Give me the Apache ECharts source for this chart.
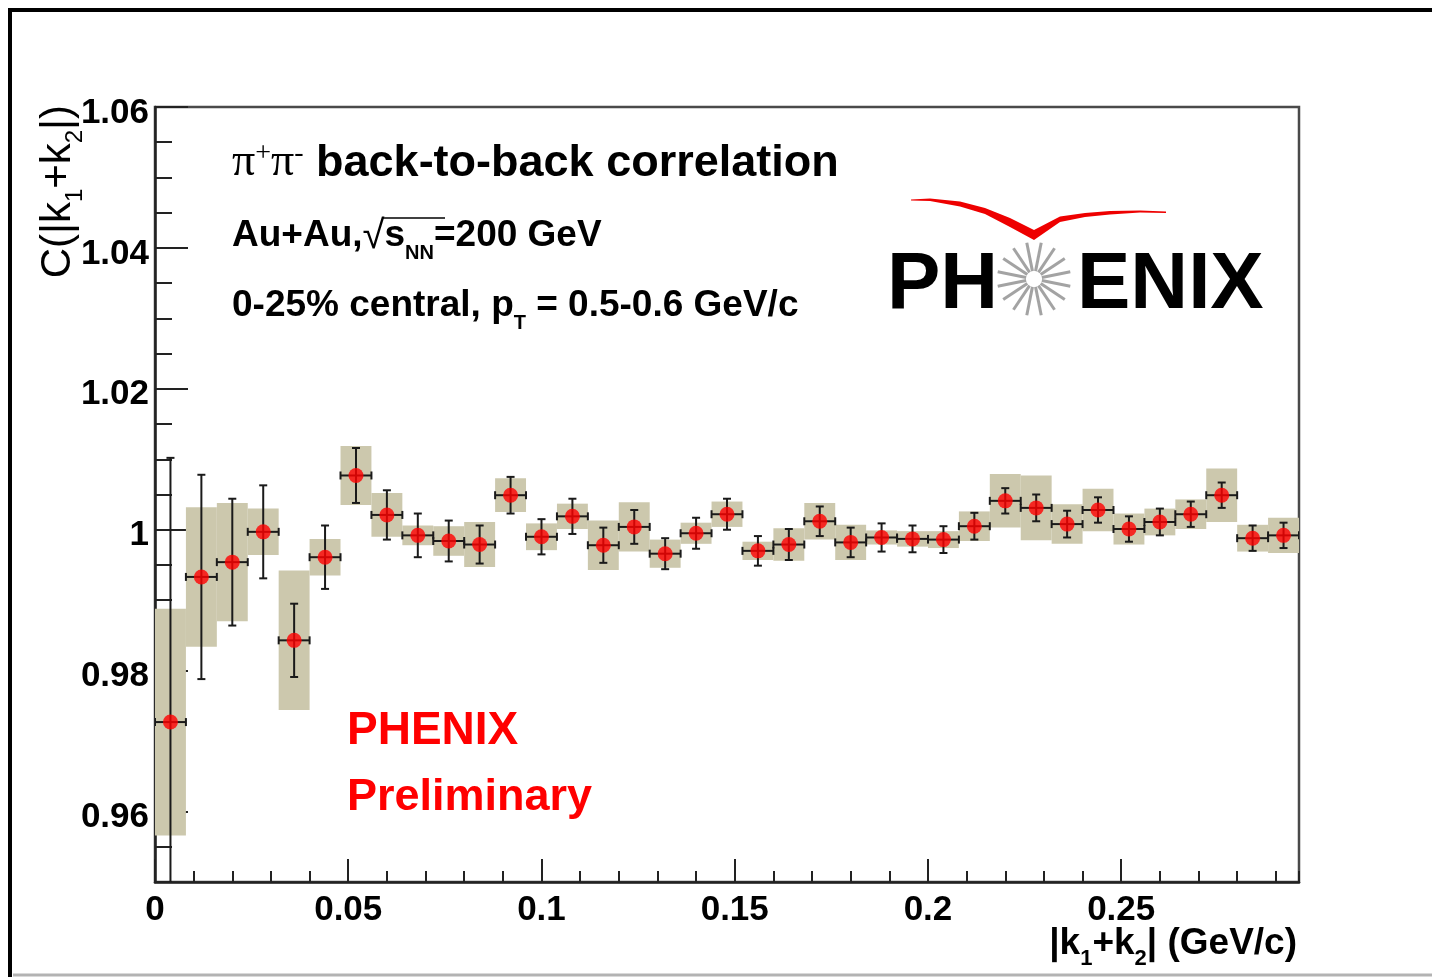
<!DOCTYPE html>
<html>
<head>
<meta charset="utf-8">
<title>π+π- back-to-back correlation</title>
<script src="https://cdn.jsdelivr.net/npm/echarts@6/dist/echarts.min.js"></script>
<style>
  html, body { margin: 0; padding: 0; background: #ffffff; }
  #chart { width: 1432px; height: 977px; }
</style>
</head>
<body>
<div id="chart"></div>
<script>
// |k1+k2| bin centres (GeV/c)
const BIN_CENTERS = [
  0.004, 0.012, 0.020, 0.028, 0.036, 0.044, 0.052, 0.060, 0.068, 0.076,
  0.084, 0.092, 0.100, 0.108, 0.116, 0.124, 0.132, 0.140, 0.148, 0.156,
  0.164, 0.172, 0.180, 0.188, 0.196, 0.204, 0.212, 0.220, 0.228, 0.236,
  0.244, 0.252, 0.260, 0.268, 0.276, 0.284, 0.292
];
// correlation function C(|k1+k2|)
const CORRELATION = [
  0.9727, 0.9933, 0.9954, 0.9997, 0.9843, 0.9961, 1.0077, 1.0021, 0.9992, 0.9984,
  0.9979, 1.0049, 0.9990, 1.0019, 0.9978, 1.0004, 0.9966, 0.9995, 1.0022, 0.9970,
  0.9979, 1.0012, 0.9982, 0.9989, 0.9987, 0.9986, 1.0005, 1.0041, 1.0031, 1.0008,
  1.0028, 1.0001, 1.0011, 1.0022, 1.0049, 0.9988, 0.9992
];
// statistical uncertainty (error bars)
const STAT_ERR = [
  0.0375, 0.0145, 0.0090, 0.0066, 0.0052, 0.0045, 0.0039, 0.0035, 0.0031, 0.0029,
  0.0027, 0.0026, 0.0025, 0.0025, 0.0025, 0.0024, 0.0022, 0.0022, 0.0022, 0.0021,
  0.0022, 0.0021, 0.0021, 0.0020, 0.0019, 0.0019, 0.0019, 0.0018, 0.0019, 0.0019,
  0.0018, 0.0018, 0.0019, 0.0018, 0.0018, 0.0018, 0.0018
];
// systematic uncertainty (shaded boxes)
const SYST_ERR = [
  0.0161, 0.0099, 0.0084, 0.0033, 0.0099, 0.0026, 0.0042, 0.0031, 0.0014, 0.0021,
  0.0032, 0.0024, 0.0019, 0.0018, 0.0035, 0.0035, 0.0020, 0.0015, 0.0018, 0.0013,
  0.0023, 0.0026, 0.0025, 0.0010, 0.0011, 0.0012, 0.0021, 0.0038, 0.0046, 0.0028,
  0.0030, 0.0022, 0.0019, 0.0021, 0.0038, 0.0019, 0.0025
];
const BIN_HALF_WIDTH = 0.004;

// axes
const X_RANGE = [0, 0.296];
const Y_RANGE = [0.95, 1.06];
const X_TICKS = [0, 0.05, 0.1, 0.15, 0.2, 0.25];
const Y_TICKS = [0.96, 0.98, 1, 1.02, 1.04, 1.06];
const X_MINOR_STEP = 0.01;
const Y_MINOR_STEP = 0.005;

const SANS = "'Liberation Sans', Arial, Helvetica, sans-serif";
const SERIF = "'Liberation Serif', 'Times New Roman', serif";

const rows = BIN_CENTERS.map((x, i) => [x, CORRELATION[i], STAT_ERR[i], SYST_ERR[i]]);

const chart = echarts.init(document.getElementById('chart'), null, { renderer: 'canvas' });

// rich-text styles for sub-/superscripts
function richSet(size, subSize, weight, drop) {
  return {
    m: { fontFamily: SANS, fontSize: size, fontWeight: weight, color: '#000', verticalAlign: 'top', padding: [0, 0, drop, 0] },
    s: { fontFamily: SANS, fontSize: subSize, fontWeight: weight, color: '#000', verticalAlign: 'bottom' }
  };
}

const axisLineStyle = { color: '#222', width: 2.5 };
const tickStyle = { color: '#222', width: 2 };

// PHENIX logo burst between "PH" and "ENIX"
const burstCenter = [1034, 279];
const burstRays = [];
for (let k = 0; k < 16; k++) {
  const a = (k * 22.5 + 11.25) * Math.PI / 180;
  burstRays.push({
    type: 'line',
    shape: {
      x1: burstCenter[0] + 8 * Math.cos(a), y1: burstCenter[1] + 8 * Math.sin(a),
      x2: burstCenter[0] + 37 * Math.cos(a), y2: burstCenter[1] + 37 * Math.sin(a)
    },
    style: { stroke: '#a3a3a3', lineWidth: 3 }
  });
}

const option = {
  animation: false,
  backgroundColor: '#ffffff',
  grid: {
    left: 155, top: 107, width: 1144, height: 775,
    show: true, borderColor: '#4a4a4a', borderWidth: 2.5, backgroundColor: 'transparent'
  },
  xAxis: [
    {
      type: 'value', min: X_RANGE[0], max: X_RANGE[1], position: 'bottom',
      axisLine: { show: true, onZero: false, lineStyle: axisLineStyle },
      axisTick: { show: true, inside: true, length: 23, customValues: X_TICKS, lineStyle: tickStyle },
      axisLabel: {
        customValues: X_TICKS, margin: 11, color: '#000',
        fontFamily: SANS, fontSize: 35, fontWeight: 'bold'
      },
      splitLine: { show: false },
      name: '{m||k}{s|1}{m|+k}{s|2}{m|| (GeV/c)}',
      nameLocation: 'end',
      nameGap: -2,
      nameMoveOverlap: false,
      nameTextStyle: {
        align: 'right', verticalAlign: 'top', padding: [43, 0, 0, 0],
        rich: richSet(37, 22, 'bold', 8)
      }
    },
    {
      type: 'value', min: X_RANGE[0], max: X_RANGE[1], interval: X_MINOR_STEP, position: 'bottom',
      axisLine: { show: false },
      axisTick: { show: true, inside: true, length: 11, lineStyle: tickStyle },
      axisLabel: { show: false },
      splitLine: { show: false }
    }
  ],
  yAxis: [
    {
      type: 'value', min: Y_RANGE[0], max: Y_RANGE[1], position: 'left',
      axisLine: { show: true, onZero: false, lineStyle: axisLineStyle },
      axisTick: { show: true, inside: true, length: 33, customValues: Y_TICKS, lineStyle: tickStyle },
      axisLabel: {
        customValues: Y_TICKS, margin: 6, color: '#000',
        verticalAlign: 'top', lineHeight: 12,
        fontFamily: SANS, fontSize: 35, fontWeight: 'bold'
      },
      splitLine: { show: false },
      name: '{m|C(|k}{s|1}{m|+k}{s|2}{m||)}',
      nameLocation: 'end',
      nameRotate: 90,
      nameGap: 2,
      nameMoveOverlap: false,
      nameTextStyle: {
        align: 'right', verticalAlign: 'bottom', padding: [0, 0, 68, 0],
        rich: richSet(42, 24, 'normal', 8)
      }
    },
    {
      type: 'value', min: Y_RANGE[0], max: Y_RANGE[1], interval: Y_MINOR_STEP, position: 'left',
      axisLine: { show: false },
      axisTick: { show: true, inside: true, length: 17, lineStyle: tickStyle },
      axisLabel: { show: false },
      splitLine: { show: false }
    }
  ],
  series: [
    {
      // systematic uncertainty boxes
      type: 'custom',
      xAxisIndex: 0, yAxisIndex: 0,
      clip: true,
      data: rows,
      encode: { x: 0, y: 1 },
      renderItem: function (params, api) {
        const x = api.value(0), y = api.value(1), s = api.value(3);
        const p0 = api.coord([x - BIN_HALF_WIDTH, y + s]);
        const p1 = api.coord([x + BIN_HALF_WIDTH, y - s]);
        return {
          type: 'rect',
          shape: { x: p0[0], y: p0[1], width: p1[0] - p0[0], height: p1[1] - p0[1] },
          style: { fill: '#ccc8ad' }
        };
      }
    },
    {
      // statistical error bars and bin-width whiskers
      type: 'custom',
      xAxisIndex: 0, yAxisIndex: 0,
      clip: true,
      data: rows,
      encode: { x: 0, y: 1 },
      renderItem: function (params, api) {
        const x = api.value(0), y = api.value(1), e = api.value(2);
        const top = api.coord([x, y + e]);
        const bot = api.coord([x, y - e]);
        const lft = api.coord([x - BIN_HALF_WIDTH, y]);
        const rgt = api.coord([x + BIN_HALF_WIDTH, y]);
        const c = 4;
        const st = { stroke: '#1a1a1a', lineWidth: 2 };
        return {
          type: 'group',
          children: [
            { type: 'line', shape: { x1: top[0], y1: top[1], x2: bot[0], y2: bot[1] }, style: st },
            { type: 'line', shape: { x1: top[0] - c, y1: top[1], x2: top[0] + c, y2: top[1] }, style: st },
            { type: 'line', shape: { x1: bot[0] - c, y1: bot[1], x2: bot[0] + c, y2: bot[1] }, style: st },
            { type: 'line', shape: { x1: lft[0], y1: lft[1], x2: rgt[0], y2: rgt[1] }, style: st },
            { type: 'line', shape: { x1: lft[0], y1: lft[1] - c, x2: lft[0], y2: lft[1] + c }, style: st },
            { type: 'line', shape: { x1: rgt[0], y1: rgt[1] - c, x2: rgt[0], y2: rgt[1] + c }, style: st }
          ]
        };
      }
    },
    {
      type: 'scatter',
      xAxisIndex: 0, yAxisIndex: 0,
      data: rows,
      encode: { x: 0, y: 1 },
      symbol: 'circle',
      symbolSize: 15,
      itemStyle: { color: '#ff0000' }
    }
  ],
  graphic: [
    // page frame
    { type: 'line', shape: { x1: 8, y1: 10, x2: 1432, y2: 10 }, style: { stroke: '#000', lineWidth: 4 } },
    { type: 'line', shape: { x1: 10, y1: 8, x2: 10, y2: 977 }, style: { stroke: '#000', lineWidth: 4 } },
    { type: 'line', shape: { x1: 13, y1: 975, x2: 1432, y2: 975 }, style: { stroke: '#b3b3b3', lineWidth: 3 } },

    // headline
    {
      type: 'text', x: 232, y: 140,
      style: {
        text: '{pi|π}{sup|+}{pi|π}{sup|-}{b| back-to-back correlation}',
        verticalAlign: 'top',
        rich: {
          pi: { fontFamily: SERIF, fontSize: 46, color: '#000', verticalAlign: 'bottom' },
          sup: { fontFamily: SERIF, fontSize: 28, color: '#000', verticalAlign: 'top' },
          b: { fontFamily: SANS, fontSize: 45, fontWeight: 'bold', color: '#000', verticalAlign: 'bottom' }
        }
      }
    },
    {
      type: 'text', x: 232, y: 217,
      style: {
        text: '{m|Au+Au,}{r|√}{m|s}{s|NN}{m|=200 GeV}',
        verticalAlign: 'top',
        rich: Object.assign(richSet(37, 20, 'bold', 9), {
          r: { fontFamily: SANS, fontSize: 40, fontWeight: 'normal', color: '#000', verticalAlign: 'top' }
        })
      }
    },
    // radical bar over s_NN
    { type: 'line', shape: { x1: 383, y1: 218, x2: 445, y2: 218 }, style: { stroke: '#000', lineWidth: 1.5 } },
    {
      type: 'text', x: 232, y: 287,
      style: {
        text: '{m|0-25% central, p}{s|T}{m| = 0.5-0.6 GeV/c}',
        verticalAlign: 'top',
        rich: richSet(37, 20, 'bold', 9)
      }
    },

    // preliminary stamp
    {
      type: 'text', x: 347, y: 708,
      style: { text: 'PHENIX', fontFamily: SANS, fontSize: 46, fontWeight: 'bold', fill: '#ff0000', verticalAlign: 'top' }
    },
    {
      type: 'text', x: 347, y: 775,
      style: { text: 'Preliminary', fontFamily: SANS, fontSize: 45, fontWeight: 'bold', fill: '#ff0000', verticalAlign: 'top' }
    },

    // PHENIX logo
    {
      type: 'polygon',
      shape: {
        points: [
          [911, 199.5], [930, 198.5], [960, 201.5], [985, 208], [1010, 218], [1034, 230],
          [1060, 216.5], [1085, 213], [1110, 211], [1140, 210.5], [1166, 211.5],
          [1166, 213], [1140, 212.5], [1110, 214.5], [1085, 217], [1060, 222], [1034, 240],
          [1010, 227], [985, 214], [960, 206.5], [930, 201], [911, 200.5]
        ]
      },
      style: { fill: '#ee0000' }
    },
    {
      type: 'text', x: 887, y: 246,
      style: { text: 'PH', fontFamily: SANS, fontSize: 80, fontWeight: 'bold', fill: '#000', verticalAlign: 'top' }
    },
    {
      type: 'text', x: 1077, y: 246,
      style: { text: 'ENIX', fontFamily: SANS, fontSize: 80, fontWeight: 'bold', fill: '#000', verticalAlign: 'top' }
    },
    { type: 'group', children: burstRays }
  ]
};

chart.setOption(option);
</script>
</body>
</html>
